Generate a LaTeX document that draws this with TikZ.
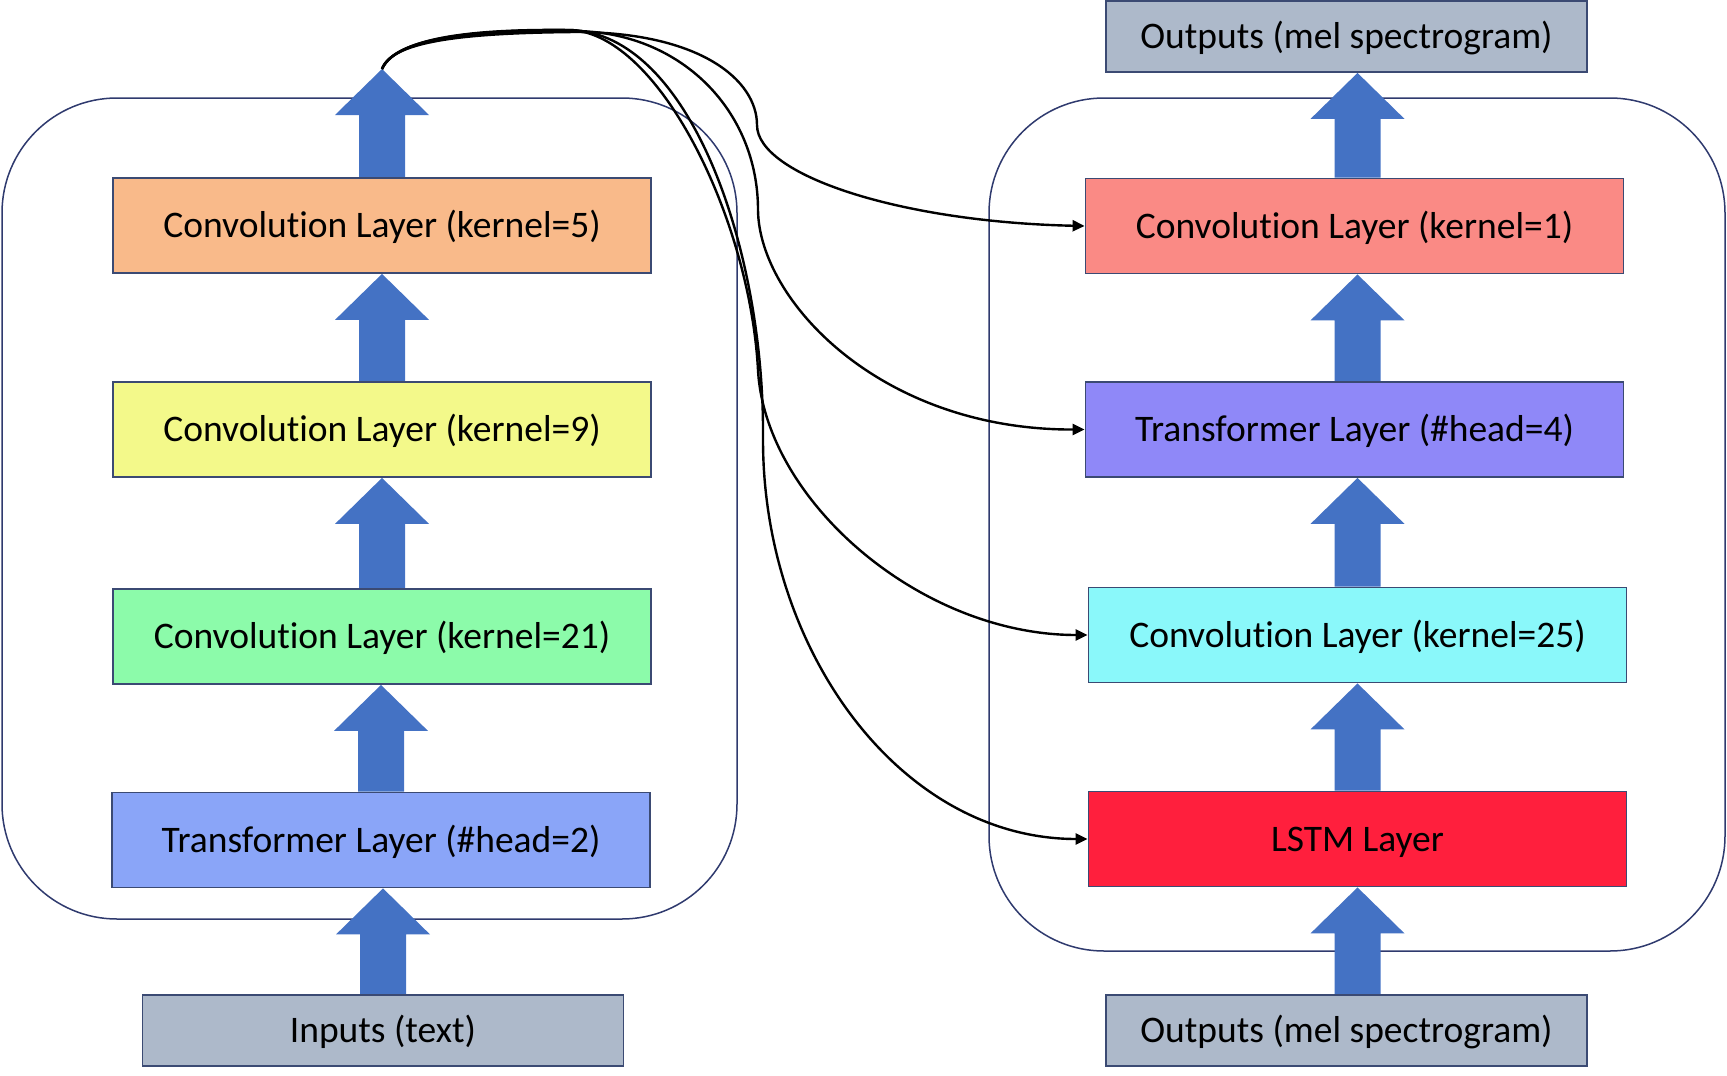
\documentclass[tikz,border=0pt]{standalone}
\usepackage{fontspec}
\setmainfont{Carlito}[Ligatures=NoCommon]
\usetikzlibrary{arrows.meta,calc}
\pgfdeclarelayer{bg}
\pgfdeclarelayer{mid}
\pgfsetlayers{bg,mid,main}
\definecolor{orangeC}{HTML}{F9BA8A}
\definecolor{yellowC}{HTML}{F3F98A}
\definecolor{greenC}{HTML}{8CFBAA}
\definecolor{blueL}{HTML}{8AA5F8}
\definecolor{grayC}{HTML}{ADB9CA}
\definecolor{pinkC}{HTML}{FA8A85}
\definecolor{purpleC}{HTML}{8F88F8}
\definecolor{cyanC}{HTML}{8AF8FA}
\definecolor{redC}{HTML}{FF1F3D}
\definecolor{arrowblue}{HTML}{4472C4}
\definecolor{boxborder}{HTML}{3B4A73}
\definecolor{contline}{HTML}{2F3A6E}
\newcommand{\blockarrow}[2]{%
  \fill[arrowblue] let \p1=(#1), \p2=(#2) in
    (\x1-23pt,\y1) -- (\x1-23pt,\y2-46pt) -- (\x1-47pt,\y2-46pt) -- (\x1,\y2)
    -- (\x1+47pt,\y2-46pt) -- (\x1+23pt,\y2-46pt) -- (\x1+23pt,\y1) -- cycle;}
\begin{document}
\begin{tikzpicture}[x=1pt,y=-1pt,
  layerbox/.style={draw=boxborder, line width=1.8pt, inner sep=0pt,
    minimum width=538pt, minimum height=95pt, text height=30pt, text depth=6pt,
    font=\fontsize{37.5}{44}\selectfont, text=black},
  iobox/.style={layerbox, minimum width=481pt, minimum height=71pt, fill=grayC},
  container/.style={draw=contline, line width=1.5pt, rounded corners=115pt},
  link/.style={line width=2.4pt, draw=black, -{Triangle[length=12pt,width=11pt]}},
]
\useasboundingbox (0,0) rectangle (1727,1076);

% left column
\node[layerbox, fill=orangeC] (k5) at (382,225.5) {Convolution Layer (kernel=5)};
\node[layerbox, fill=yellowC] (k9) at (382,429.5) {Convolution Layer (kernel=9)};
\node[layerbox, fill=greenC] (k21) at (382,636.5) {Convolution Layer (kernel=21)};
\node[layerbox, fill=blueL] (th2) at (381,840) {Transformer Layer (\#head=2)};
\node[iobox] (inp) at (383,1030.5) {Inputs (text)};
\coordinate (tipL) at (382,69);

% right column
\node[iobox] (outtop) at (1346.5,36.5) {Outputs (mel spectrogram)};
\node[layerbox, fill=pinkC] (k1) at (1354.5,226) {Convolution Layer (kernel=1)};
\node[layerbox, fill=purpleC] (th4) at (1354.5,429.5) {Transformer Layer (\#head=4)};
\node[layerbox, fill=cyanC] (k25) at (1357.5,635) {Convolution Layer (kernel=25)};
\node[layerbox, fill=redC] (lstm) at (1357.5,839) {LSTM Layer};
\node[iobox] (outbot) at (1346.5,1030.5) {Outputs (mel spectrogram)};

\begin{pgfonlayer}{bg}
  \draw[container] (2,98) rectangle (737,919);
  \draw[container] (989,98) rectangle (1725,951);
\end{pgfonlayer}

\begin{pgfonlayer}{mid}
  \blockarrow{k5.north}{tipL}
  \blockarrow{k9.north}{k5.south}
  \blockarrow{k21.north}{k9.south}
  \blockarrow{th2.north}{k21.south}
  \blockarrow{inp.north}{th2.south}
  \blockarrow{$(k1.north)+(3,0)$}{$(outtop.south)+(11,0)$}
  \blockarrow{$(th4.north)+(3,0)$}{$(k1.south)+(3,0)$}
  \blockarrow{k25.north}{$(th4.south)+(3,0)$}
  \blockarrow{lstm.north}{k25.south}
  \blockarrow{$(outbot.north)+(11,0)$}{lstm.south}
\end{pgfonlayer}

% skip connections
\draw[link] (tipL) .. controls (392,40) and (470,33) .. (575,32)
  .. controls (700,32) and (757,80) .. (757,125)
  .. controls (757,175) and (900,222) .. (k1.west);
\draw[link] (tipL) .. controls (394,38) and (475,31) .. (573,31)
  .. controls (680,31) and (758,110) .. (758,210)
  .. controls (759,300) and (880,430) .. (th4.west);
\draw[link] (tipL) .. controls (396,36) and (480,30) .. (571,30)
  .. controls (660,35) and (750,220) .. (758,370)
  .. controls (765,500) and (920,635) .. (k25.west);
\draw[link] (tipL) .. controls (398,35) and (485,29) .. (570,30)
  .. controls (690,33) and (765,250) .. (763,440)
  .. controls (763,650) and (900,839) .. (lstm.west);
\end{tikzpicture}
\end{document}
